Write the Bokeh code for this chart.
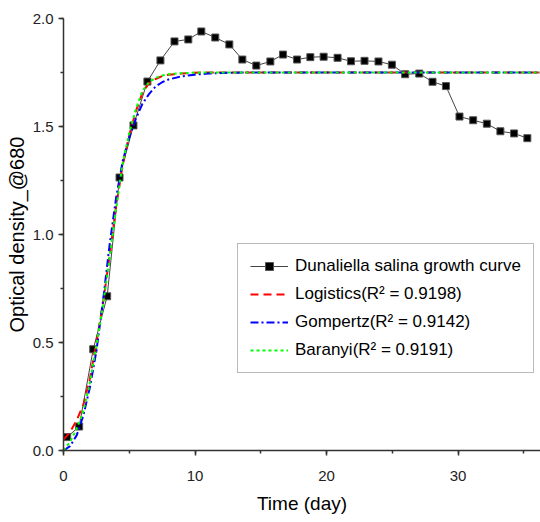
from bokeh.plotting import figure
from bokeh.models import Range1d, SingleIntervalTicker, PrintfTickFormatter, Legend, LegendItem
from bokeh.embed import file_html
from bokeh.resources import INLINE

# measured growth data
days = [0.28, 1.19, 2.26, 3.32, 4.26, 5.32, 6.38, 7.37, 8.44, 9.49, 10.48, 11.54,
        12.61, 13.60, 14.66, 15.73, 16.69, 17.76, 18.77, 19.78, 20.84, 21.86, 22.89,
        23.95, 24.97, 25.98, 27.05, 28.06, 29.08, 30.11, 31.15, 32.19, 33.22, 34.26, 35.27]
od = [0.062, 0.111, 0.469, 0.714, 1.264, 1.505, 1.708, 1.806, 1.894, 1.903, 1.940, 1.912,
      1.880, 1.810, 1.782, 1.801, 1.833, 1.810, 1.821, 1.823, 1.818, 1.802, 1.804,
      1.801, 1.786, 1.742, 1.745, 1.707, 1.687, 1.546, 1.529, 1.513, 1.478, 1.468, 1.446]

# fitted model curves
fit_t = [0, 0.5, 1, 1.5, 2, 2.5, 3, 3.5, 4, 4.5, 5, 5.5, 6, 6.5, 7, 7.5, 8, 9, 10, 11, 12, 14, 37]
logistic = [0.05, 0.085, 0.14, 0.21, 0.33, 0.50, 0.68, 0.90, 1.13, 1.32, 1.46, 1.57, 1.655,
            1.70, 1.72, 1.733, 1.74, 1.745, 1.749, 1.75, 1.75, 1.75, 1.75]
gompertz = [0.0, 0.02, 0.07, 0.16, 0.29, 0.46, 0.69, 0.95, 1.17, 1.34, 1.45, 1.535, 1.605,
            1.65, 1.685, 1.705, 1.718, 1.732, 1.74, 1.745, 1.748, 1.75, 1.75]
baranyi = [0.0, 0.04, 0.10, 0.18, 0.31, 0.49, 0.67, 0.89, 1.12, 1.33, 1.47, 1.58, 1.665,
           1.705, 1.725, 1.736, 1.742, 1.747, 1.749, 1.75, 1.75, 1.75, 1.75]

labels = ["Dunaliella salina growth curve",
          "Logistics(R\u00b2 = 0.9198)",
          "Gompertz(R\u00b2 = 0.9142)",
          "Baranyi(R\u00b2 = 0.9191)"]

FONT = "Liberation Sans"

p = figure(width=540, height=522, output_backend="svg", toolbar_location=None,
           x_range=Range1d(0, 36.27), y_range=Range1d(0, 2.0),
           min_border_left=63, min_border_right=0, min_border_top=18, min_border_bottom=72)
p.outline_line_color = None
p.grid.visible = False
p.background_fill_color = "white"

dl = p.line(days, od, line_color="#444444", line_width=1)
ds = p.scatter(days, od, marker="square", size=7, fill_color="black", line_color="#555555",
               line_width=1)
rl = p.line(fit_t, logistic, line_color="#ff0000", line_width=2, line_dash="8 5")
bl = p.line(fit_t, gompertz, line_color="#0000ff", line_width=2, line_dash="8 3 2 3")
gl = p.line(fit_t, baranyi, line_color="#00ff00", line_width=2, line_dash="3 3")

for ax in (p.xaxis[0], p.yaxis[0]):
    ax.axis_line_color = "#333333"
    ax.axis_line_width = 1.5
    ax.major_tick_line_color = "#333333"
    ax.minor_tick_line_color = "#333333"
    ax.major_tick_line_width = 1.5
    ax.minor_tick_line_width = 1.5
    ax.major_tick_in = 0
    ax.minor_tick_in = 0
    ax.major_tick_out = 5
    ax.minor_tick_out = 3
    ax.major_label_text_font = FONT
    ax.major_label_text_font_size = "15px"
    ax.major_label_text_color = "#222222"
    ax.axis_label_text_font = FONT
    ax.axis_label_text_font_style = "normal"
    ax.axis_label_text_color = "black"

p.xaxis.ticker = SingleIntervalTicker(interval=10, num_minor_ticks=2)
p.yaxis.ticker = SingleIntervalTicker(interval=0.5, num_minor_ticks=2)
p.yaxis.formatter = PrintfTickFormatter(format="%.1f")
p.xaxis.axis_label = "Time (day)"
p.yaxis.axis_label = "Optical density_@680"
p.xaxis.axis_label_text_font_size = "19px"
p.yaxis.axis_label_text_font_size = "20px"
p.xaxis.major_label_standoff = 15
p.yaxis.major_label_standoff = 5
p.xaxis.axis_label_standoff = 9
p.yaxis.axis_label_standoff = 2

legend = Legend(items=[LegendItem(label=labels[0], renderers=[dl, ds]),
                       LegendItem(label=labels[1], renderers=[rl]),
                       LegendItem(label=labels[2], renderers=[bl]),
                       LegendItem(label=labels[3], renderers=[gl])],
                location=(174, 77))
legend.label_text_font = FONT
legend.label_text_font_size = "17px"
legend.label_text_color = "black"
legend.glyph_width = 38
legend.glyph_height = 20
legend.label_height = 20
legend.label_standoff = 7
legend.spacing = 8
legend.padding = 12
legend.border_line_color = "#777777"
legend.border_line_width = 1.5
legend.background_fill_color = "white"
legend.background_fill_alpha = 1.0
p.add_layout(legend, "center")

open("out.html", "w").write(file_html(p, INLINE))
